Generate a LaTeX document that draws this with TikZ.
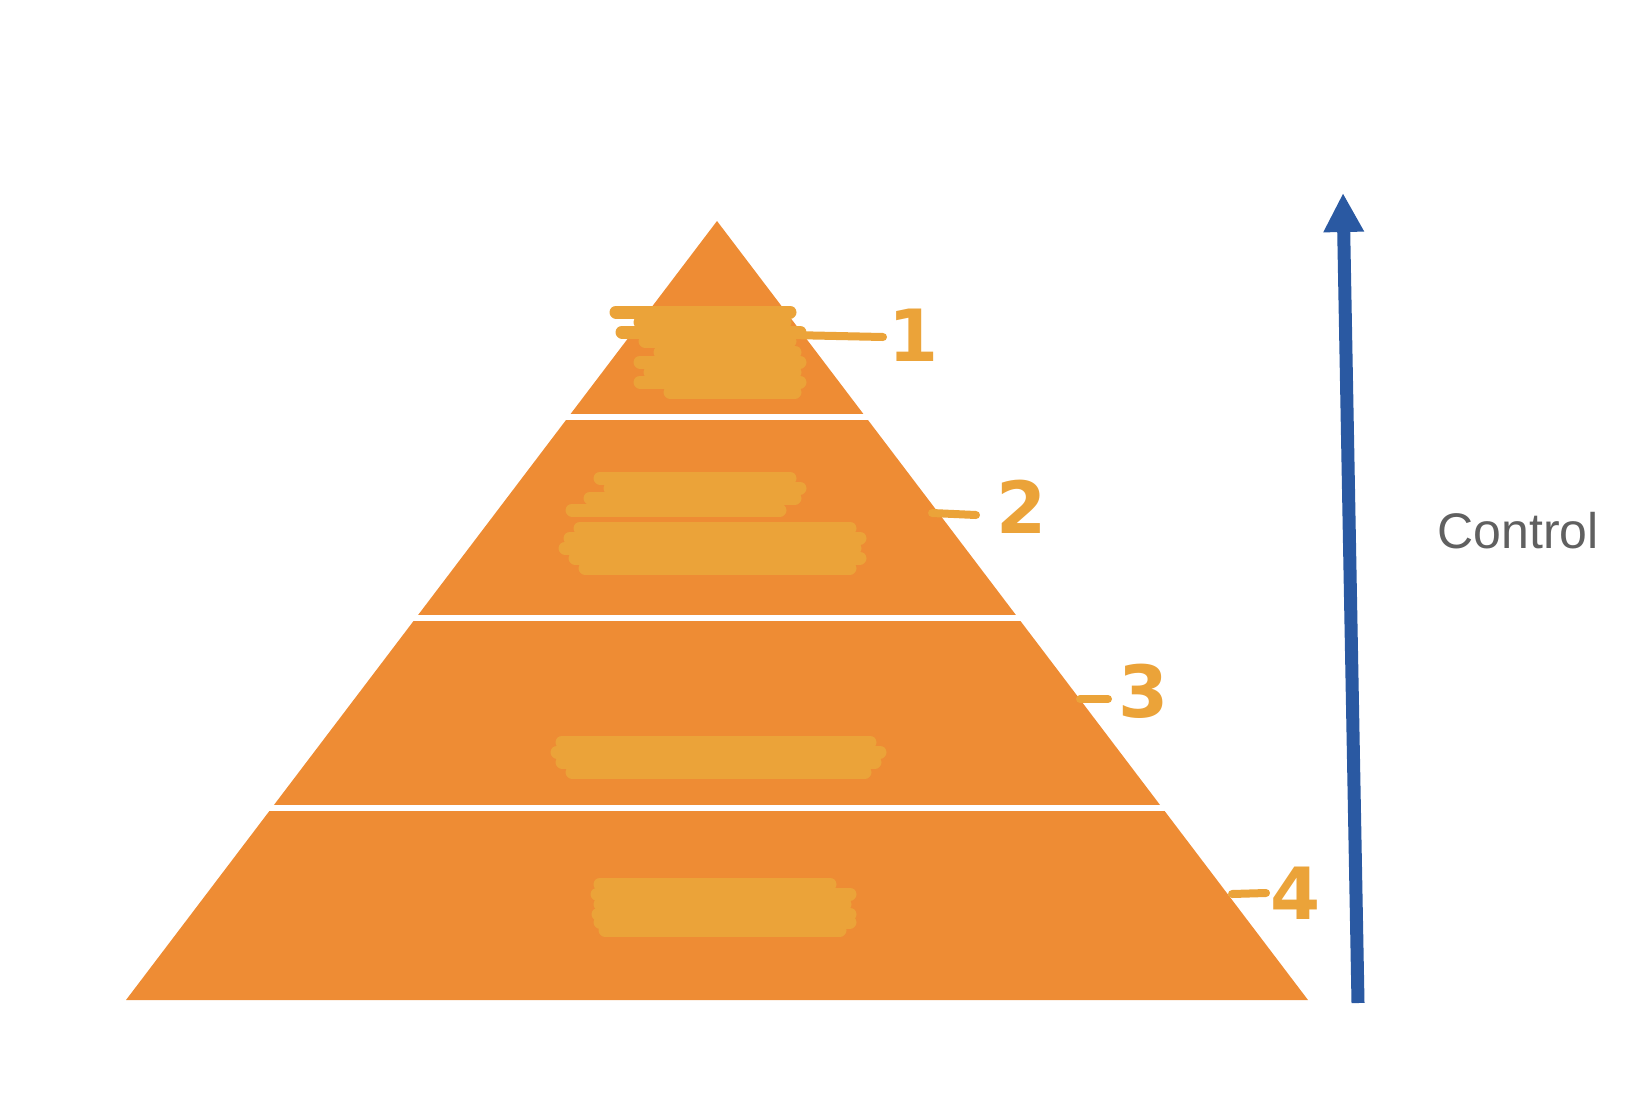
\documentclass[tikz,border=0pt]{standalone}
\usepackage{fontspec}
\setmainfont{Liberation Sans}
\newfontfamily\digitfont{DejaVu Sans}
\usepackage{tikz}
\usetikzlibrary{calc}
\usetikzlibrary{arrows.meta}
\usepackage{xcolor}
\definecolor{pyrorange}{RGB}{238,140,52}
\definecolor{scrib}{RGB}{235,163,57}
\definecolor{ctrlblue}{RGB}{42,89,162}
\definecolor{ctrlgray}{RGB}{96,96,96}
\tikzset{
  pyramid/.style={fill=pyrorange},
  bandgap/.style={draw=white, line width=5.5pt, shorten <=-4pt, shorten >=-4pt},
  scribble/.style={draw=scrib, line width=13pt, line cap=round},
  tick/.style={draw=scrib, line width=8pt, line cap=round},
  digit/.style={text=scrib, font=\digitfont\bfseries\fontsize{72}{80}\selectfont, inner sep=0pt},
  ctrlarrow/.style={draw=ctrlblue, line width=13pt, -{Triangle[length=39pt,width=38pt]}},
  ctrllabel/.style={text=ctrlgray, font=\fontsize{50}{58}\selectfont, inner sep=0pt},
}
\begin{document}
\begin{tikzpicture}[x=1pt,y=-1pt]
\useasboundingbox (0,0) rectangle (1640,1103);

\coordinate (apex) at (717,221);
\coordinate (bl) at (126,1000);
\coordinate (br) at (1308,1000);
\fill[pyramid] (apex) -- (br) -- (bl) -- cycle;

\foreach \t in {0.2516,0.5096,0.7535}
  \draw[bandgap] ($(apex)!\t!(bl)$) -- ($(apex)!\t!(br)$);

\foreach \xa/\xb/\y in {616/790/312,640/785/322,622/800/332,645/790/341,660/795/352,
  640/800/362,650/795/372,640/800/382,670/795/392}
  \draw[scribble] (\xa,\y) -- (\xb,\y);
\draw[tick] (790,335) -- (883,337);
\node[digit] (one) at (914,335) {1};

\foreach \xa/\xb/\y in {600/790/478,610/800/488,590/795/498,572/780/510,
  580/850/528,570/860/538,565/855/548,575/860/558,585/850/568}
  \draw[scribble] (\xa,\y) -- (\xb,\y);
\draw[tick] (932,513) -- (976,515);
\node[digit] (two) at (1022,507) {2};

\foreach \xa/\xb/\y in {562/870/742,557/880/752,562/875/762,572/865/772}
  \draw[scribble] (\xa,\y) -- (\xb,\y);
\draw[tick] (1080,699) -- (1108,699);
\node[digit] (three) at (1144,691) {3};

\foreach \xa/\xb/\y in {600/830/884,597/850/894,600/845/904,598/850/914,600/850/922,605/840/930}
  \draw[scribble] (\xa,\y) -- (\xb,\y);
\draw[tick] (1232,894) -- (1266,893);
\node[digit] (four) at (1296,893) {4};

\coordinate (arrowfoot) at (1358,1003);
\coordinate (arrowtip) at (1343,193);
\draw[ctrlarrow] (arrowfoot) -- (arrowtip);
\node[ctrllabel] (control) at (1518,531) {Control};
\end{tikzpicture}
\end{document}
